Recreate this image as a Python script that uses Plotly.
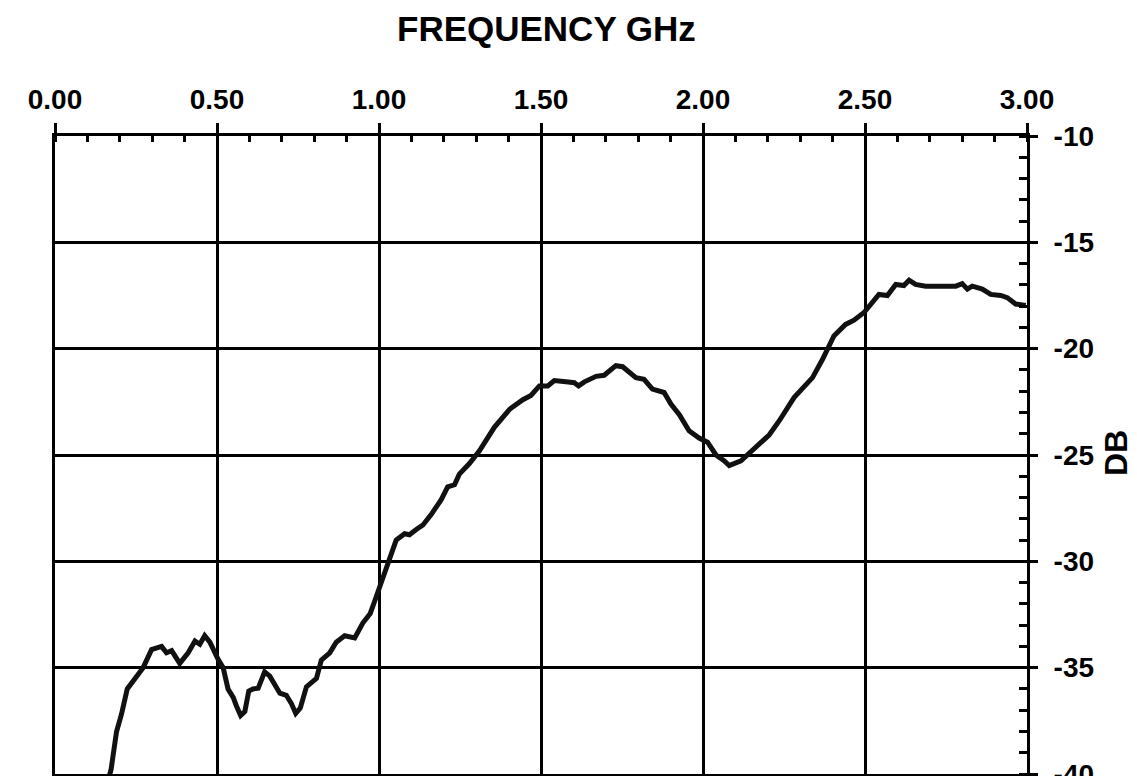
import plotly.graph_objects as go

# Frequency (GHz) and response (dB)
freq_ghz = [0.160, 0.173, 0.190, 0.205, 0.223, 0.241, 0.272, 0.298, 0.313, 0.329, 0.344, 0.360,
            0.385, 0.411, 0.432, 0.447, 0.462, 0.478, 0.503, 0.519, 0.534, 0.550, 0.560, 0.573,
            0.586, 0.598, 0.611, 0.627, 0.647, 0.663, 0.694, 0.714, 0.730, 0.743, 0.757, 0.776,
            0.807, 0.822, 0.848, 0.868, 0.894, 0.925, 0.950, 0.973, 0.986, 1.012, 1.033, 1.053,
            1.079, 1.094, 1.115, 1.135, 1.161, 1.192, 1.212, 1.233, 1.248, 1.279, 1.310, 1.356,
            1.403, 1.444, 1.469, 1.495, 1.521, 1.541, 1.577, 1.603, 1.616, 1.634, 1.670, 1.695,
            1.731, 1.752, 1.793, 1.818, 1.844, 1.880, 1.901, 1.927, 1.957, 1.988, 2.014, 2.040,
            2.065, 2.081, 2.117, 2.142, 2.204, 2.235, 2.281, 2.338, 2.369, 2.404, 2.440, 2.466,
            2.497, 2.543, 2.569, 2.595, 2.620, 2.636, 2.656, 2.687, 2.728, 2.749, 2.780, 2.800,
            2.816, 2.831, 2.862, 2.888, 2.919, 2.939, 2.965, 2.996]
level_db = [-40.5, -39.8, -38.0, -37.2, -36.0, -35.6, -35.0, -34.15, -34.1, -34.0, -34.3, -34.2,
            -34.8, -34.3, -33.75, -33.9, -33.5, -33.8, -34.6, -35.0, -36.0, -36.4, -36.8, -37.25,
            -37.06, -36.1, -36.0, -35.97, -35.2, -35.4, -36.2, -36.3, -36.7, -37.15, -36.9, -35.9,
            -35.5, -34.65, -34.3, -33.8, -33.5, -33.6, -32.9, -32.45, -31.9, -30.8, -29.8, -29.0,
            -28.7, -28.75, -28.5, -28.3, -27.8, -27.1, -26.5, -26.4, -25.9, -25.4, -24.8, -23.7,
            -22.85, -22.4, -22.2, -21.75, -21.75, -21.5, -21.56, -21.6, -21.75, -21.56, -21.3, -21.25,
            -20.8, -20.85, -21.36, -21.44, -21.9, -22.06, -22.6, -23.1, -23.86, -24.2, -24.4, -25.0,
            -25.27, -25.5, -25.27, -24.9, -24.06, -23.4, -22.3, -21.36, -20.5, -19.4, -18.86, -18.66,
            -18.3, -17.45, -17.5, -16.98, -17.03, -16.78, -16.98, -17.06, -17.06, -17.1, -17.06, -16.94,
            -17.2, -17.06, -17.2, -17.45, -17.5, -17.6, -17.9, -17.97]

x_tickvals = [0.0, 0.5, 1.0, 1.5, 2.0, 2.5, 3.0]
x_ticktext = ["0.00", "0.50", "1.00", "1.50", "2.00", "2.50", "3.00"]
y_tickvals = [-40, -35, -30, -25, -20, -15, -10]
y_ticktext = ["-40", "-35", "-30", "-25", "-20", "-15", "-10"]

FONT = "Liberation Sans, Arial, sans-serif"

fig = go.Figure()
fig.add_trace(go.Scatter(x=freq_ghz, y=level_db, mode="lines",
                         line=dict(color="#111111", width=5), showlegend=False))

fig.update_layout(
    width=1129, height=768,
    paper_bgcolor="white", plot_bgcolor="white",
    margin=dict(l=47, r=110, t=128, b=2),
    font=dict(family=FONT, color="black"),
)

fig.update_xaxes(
    side="top", range=[0, 3], tickmode="array",
    tickvals=x_tickvals, ticktext=x_ticktext,
    ticks="outside", ticklen=10, tickwidth=2.5, tickcolor="black",
    ticklabelstandoff=3, ticklabeloverflow="allow",
    tickfont=dict(size=28, family=FONT, weight="bold"),
    showgrid=True, gridcolor="black", gridwidth=2.5,
    showline=True, linecolor="black", linewidth=3, mirror=True,
    zeroline=False, automargin=False,
    minor=dict(dtick=0.1, tick0=0, ticks="inside", ticklen=6, tickwidth=2.5,
               tickcolor="black", showgrid=False),
)
fig.update_yaxes(
    side="right", range=[-40, -10], tickmode="array",
    tickvals=y_tickvals, ticktext=y_ticktext,
    ticks="outside", ticklen=8, tickwidth=2.5, tickcolor="black",
    ticklabelstandoff=10, ticklabeloverflow="allow",
    tickfont=dict(size=28, family=FONT, weight="bold"),
    showgrid=True, gridcolor="black", gridwidth=2.5,
    showline=True, linecolor="black", linewidth=3, mirror=True,
    zeroline=False, automargin=False,
    minor=dict(dtick=1, tick0=-40, ticks="inside", ticklen=8, tickwidth=2.5,
               tickcolor="black", showgrid=False),
)

fig.add_annotation(text="FREQUENCY GHz", xref="paper", yref="paper",
                   x=0.506, y=1.169, xanchor="center", yanchor="middle", showarrow=False,
                   font=dict(size=35, family=FONT, weight="bold", color="black"))
fig.add_annotation(text="DB", xref="paper", yref="paper",
                   x=1.0916, y=0.503, xanchor="center", yanchor="middle",
                   showarrow=False, textangle=-90,
                   font=dict(size=32, family=FONT, weight="bold", color="black"))

fig.write_html("out.html")
